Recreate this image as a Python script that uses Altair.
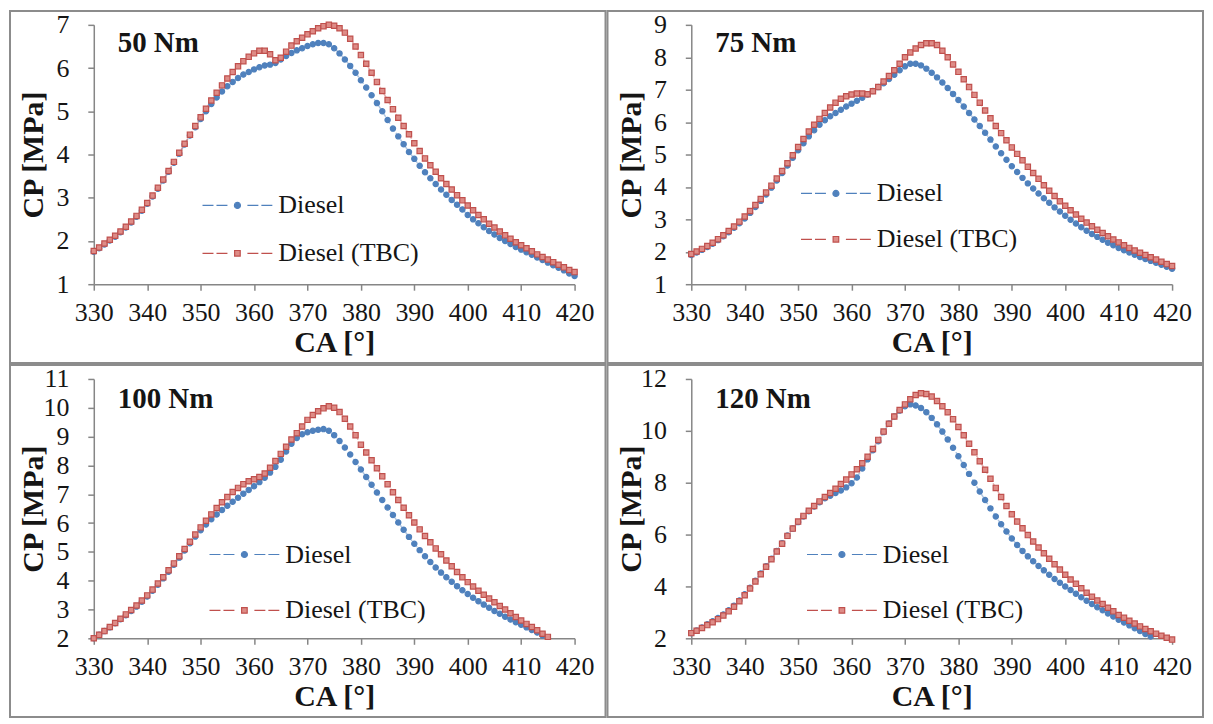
import altair as alt
import pandas as pd

# ---------------- data ----------------
CA = list(range(330, 421))
SERIES = ["Diesel", "Diesel (TBC)"]
X_TICKS = [330, 340, 350, 360, 370, 380, 390, 400, 410, 420]

P50_DIESEL = [
    1.75, 1.83, 1.92, 2.01, 2.10, 2.20, 2.31, 2.43, 2.56, 2.70,
    2.86, 3.03, 3.21, 3.40, 3.60, 3.81, 4.02, 4.23, 4.44, 4.63,
    4.82, 5.00, 5.17, 5.32, 5.46, 5.58, 5.68, 5.77, 5.85, 5.91,
    5.97, 6.02, 6.06, 6.08, 6.12, 6.20, 6.28, 6.35, 6.41, 6.46,
    6.51, 6.55, 6.58, 6.58, 6.55, 6.46, 6.34, 6.20, 6.05, 5.89,
    5.72, 5.55, 5.37, 5.19, 5.00, 4.80, 4.60, 4.42, 4.24, 4.06,
    3.90, 3.74, 3.59, 3.45, 3.32, 3.19, 3.07, 2.95, 2.84, 2.73,
    2.60, 2.50, 2.41, 2.32, 2.23, 2.15, 2.07, 2.00, 1.93, 1.86,
    1.80, 1.74, 1.68, 1.62, 1.56, 1.50, 1.44, 1.38, 1.32, 1.25,
    1.19,
]
P50_TBC = [
    1.77, 1.85, 1.94, 2.03, 2.12, 2.22, 2.33, 2.45, 2.58, 2.72,
    2.88, 3.05, 3.23, 3.42, 3.62, 3.83, 4.04, 4.25, 4.46, 4.66,
    4.86, 5.06, 5.25, 5.43, 5.60, 5.76, 5.91, 6.04, 6.16, 6.26,
    6.34, 6.40, 6.40, 6.32, 6.18, 6.24, 6.38, 6.52, 6.62, 6.70,
    6.78, 6.85, 6.92, 6.97, 7.00, 6.98, 6.92, 6.82, 6.68, 6.50,
    6.30, 6.10, 5.89, 5.68, 5.47, 5.26, 5.05, 4.85, 4.66, 4.47,
    4.26, 4.08, 3.91, 3.75, 3.60, 3.45, 3.32, 3.19, 3.06, 2.94,
    2.82, 2.71, 2.60, 2.50, 2.40, 2.31, 2.22, 2.13, 2.05, 1.97,
    1.90, 1.83, 1.76, 1.69, 1.63, 1.57, 1.51, 1.45, 1.39, 1.33,
    1.28,
]
P75_DIESEL = [
    1.90, 1.98, 2.06, 2.15, 2.25, 2.36, 2.48, 2.60, 2.74, 2.88,
    3.03, 3.20, 3.38, 3.57, 3.77, 3.98, 4.20, 4.43, 4.66, 4.90,
    5.13, 5.35, 5.56, 5.75, 5.92, 6.06, 6.18, 6.28, 6.38, 6.48,
    6.57, 6.66, 6.75, 6.85, 6.96, 7.08, 7.20, 7.33, 7.46, 7.60,
    7.72, 7.80, 7.80, 7.75, 7.65, 7.52, 7.38, 7.22, 7.05, 6.87,
    6.68, 6.48, 6.28, 6.08, 5.88, 5.67, 5.46, 5.25, 5.04, 4.84,
    4.64, 4.46, 4.28, 4.11, 3.95, 3.80, 3.65, 3.51, 3.37, 3.24,
    3.11, 2.99, 2.87, 2.76, 2.65, 2.55, 2.46, 2.37, 2.28, 2.20,
    2.12, 2.05, 1.98, 1.91, 1.84, 1.78, 1.72, 1.66, 1.60, 1.54,
    1.48,
]
P75_TBC = [
    1.93, 2.01, 2.09, 2.18, 2.28, 2.39, 2.51, 2.64, 2.78, 2.93,
    3.09, 3.26, 3.44, 3.63, 3.83, 4.04, 4.26, 4.49, 4.73, 4.98,
    5.23, 5.48, 5.71, 5.92, 6.10, 6.28, 6.45, 6.60, 6.72, 6.80,
    6.85, 6.88, 6.88, 6.86, 6.95, 7.08, 7.25, 7.42, 7.60, 7.80,
    8.00, 8.15, 8.27, 8.38, 8.43, 8.43, 8.38, 8.20, 8.00, 7.78,
    7.55, 7.32, 7.08, 6.84, 6.60, 6.36, 6.12, 5.88, 5.66, 5.44,
    5.22, 5.02, 4.82, 4.62, 4.43, 4.25, 4.05, 3.88, 3.72, 3.56,
    3.42, 3.28, 3.15, 3.02, 2.90, 2.79, 2.68, 2.58, 2.48, 2.38,
    2.29, 2.20, 2.12, 2.04, 1.97, 1.90, 1.83, 1.76, 1.69, 1.62,
    1.56,
]
P100_DIESEL = [
    2.00, 2.12, 2.25, 2.38, 2.52, 2.66, 2.80, 2.95, 3.10, 3.27,
    3.45, 3.65, 3.86, 4.08, 4.31, 4.55, 4.80, 5.05, 5.30, 5.53,
    5.75, 5.95, 6.13, 6.30, 6.45, 6.60, 6.74, 6.88, 7.02, 7.15,
    7.28, 7.42, 7.57, 7.75, 7.95, 8.20, 8.48, 8.75, 8.95, 9.08,
    9.15, 9.20, 9.24, 9.26, 9.20, 9.05, 8.85, 8.62, 8.38, 8.12,
    7.86, 7.60, 7.33, 7.06, 6.80, 6.54, 6.28, 6.02, 5.77, 5.52,
    5.28, 5.06, 4.85, 4.65, 4.46, 4.28, 4.12, 3.96, 3.81, 3.67,
    3.54, 3.41, 3.29, 3.17, 3.06, 2.95, 2.85, 2.75, 2.65, 2.56,
    2.47, 2.38, 2.29, 2.20, 2.10,
]
P100_TBC = [
    2.00, 2.12, 2.25, 2.39, 2.53, 2.68, 2.83, 2.98, 3.14, 3.31,
    3.49, 3.69, 3.90, 4.12, 4.36, 4.60, 4.85, 5.10, 5.35, 5.60,
    5.85, 6.08, 6.30, 6.52, 6.72, 6.90, 7.08, 7.22, 7.35, 7.45,
    7.52, 7.60, 7.72, 7.92, 8.15, 8.40, 8.65, 8.90, 9.12, 9.35,
    9.58, 9.75, 9.88, 9.98, 10.05, 10.00, 9.85, 9.62, 9.35, 9.05,
    8.72, 8.45, 8.18, 7.90, 7.62, 7.35, 7.07, 6.80, 6.53, 6.27,
    6.02, 5.78, 5.55, 5.33, 5.12, 4.92, 4.70, 4.50, 4.30, 4.12,
    3.95, 3.80, 3.65, 3.51, 3.38, 3.25, 3.12, 3.00, 2.87, 2.74,
    2.62, 2.50, 2.39, 2.28, 2.16, 2.05,
]
P120_DIESEL = [
    2.20, 2.30, 2.42, 2.54, 2.66, 2.78, 2.92, 3.08, 3.26, 3.46,
    3.70, 3.95, 4.22, 4.50, 4.78, 5.07, 5.37, 5.67, 5.96, 6.23,
    6.48, 6.70, 6.90, 7.08, 7.25, 7.40, 7.50, 7.60, 7.70, 7.82,
    7.98, 8.20, 8.55, 8.90, 9.25, 9.60, 9.95, 10.28, 10.55, 10.78,
    10.95, 11.02, 10.98, 10.88, 10.72, 10.50, 10.25, 9.97, 9.67, 9.35,
    9.02, 8.68, 8.34, 8.00, 7.66, 7.33, 7.01, 6.70, 6.40, 6.12,
    5.85, 5.60, 5.37, 5.16, 4.97, 4.79, 4.62, 4.45, 4.29, 4.14,
    4.00, 3.86, 3.72, 3.58, 3.45, 3.32, 3.20, 3.08, 2.96, 2.84,
    2.72, 2.61, 2.50, 2.39, 2.28, 2.17, 2.07,
]
P120_TBC = [
    2.20, 2.29, 2.40, 2.51, 2.62, 2.74, 2.88, 3.04, 3.22, 3.43,
    3.66, 3.92, 4.19, 4.47, 4.76, 5.05, 5.35, 5.65, 5.95, 6.23,
    6.50, 6.72, 6.92, 7.10, 7.28, 7.45, 7.60, 7.77, 7.95, 8.12,
    8.32, 8.52, 8.75, 9.00, 9.30, 9.65, 9.97, 10.27, 10.55, 10.80,
    11.02, 11.22, 11.38, 11.45, 11.42, 11.32, 11.15, 10.95, 10.72, 10.45,
    10.15, 9.83, 9.50, 9.17, 8.83, 8.50, 8.15, 7.80, 7.45, 7.10,
    6.78, 6.50, 6.24, 5.98, 5.73, 5.50, 5.28, 5.07, 4.86, 4.65,
    4.45, 4.27, 4.10, 3.93, 3.76, 3.60, 3.46, 3.32, 3.18, 3.04,
    2.90, 2.79, 2.68, 2.57, 2.46, 2.36, 2.27, 2.18, 2.10, 2.02,
    1.95,
]

PANEL_LABELS = ["50 Nm", "75 Nm", "100 Nm", "120 Nm"]
Y_DOMAINS = [[1, 7], [1, 9], [2, 11], [2, 12]]
Y_TICKS = [
    [1, 2, 3, 4, 5, 6, 7],
    [1, 2, 3, 4, 5, 6, 7, 8, 9],
    [2, 3, 4, 5, 6, 7, 8, 9, 10, 11],
    [2, 4, 6, 8, 10, 12],
]

# ---------------- style ----------------
FONT = "Liberation Serif, Times New Roman, Tinos, Nimbus Roman, DejaVu Serif, serif"
BLUE = "#4F81BD"
RED = "#C0504D"
PINK = "#DE8C87"
GRAY = "#8C8C8C"
AXIS_GRAY = "#868686"
TEXT = "#151515"
PW, PH = 482, 260

# legend symbols: dashed line with the marker in the middle (unit = 7 px)
LEG_CIRCLE = ("M-5,0H-3.43M-3,0H-1.43M1.43,0H3M3.43,0H5"
              "M0.43,0A0.43,0.43,0,1,1,-0.43,0A0.43,0.43,0,1,1,0.43,0Z")
LEG_SQUARE = ("M-5,0H-3.43M-3,0H-1.43M1.43,0H3M3.43,0H5"
              "M-0.4,-0.4H0.4V0.4H-0.4Z")


def panel(diesel, tbc, label, y_dom, y_ticks, leg_cx, leg_row1, row_pad, label_y):
    rows = [{"CA": c, "CP": v, "Series": SERIES[0]} for c, v in zip(CA, diesel)]
    rows += [{"CA": c, "CP": v, "Series": SERIES[1]} for c, v in zip(CA, tbc)]
    df = pd.DataFrame(rows)

    x = alt.X("CA:Q", scale=alt.Scale(domain=[330, 420], nice=False, zero=False),
              axis=alt.Axis(values=X_TICKS, title="CA [°]", labelPadding=9, labelOverlap=False,
                            labelFlush=False, titleY=58, titleBaseline="middle"))
    y = alt.Y("CP:Q", scale=alt.Scale(domain=y_dom, nice=False, zero=False),
              axis=alt.Axis(values=y_ticks, title="CP [MPa]", labelPadding=19, labelOverlap=False,
                            labelFlush=False, titleX=-60, titleY=PH / 2, titleAngle=270,
                            titleBaseline="middle", titleAlign="center"))

    lines = alt.Chart(df).mark_line(strokeDash=[5, 3], strokeWidth=1.5, strokeOpacity=0.45).encode(
        x=x, y=y,
        stroke=alt.Stroke("Series:N", scale=alt.Scale(domain=SERIES, range=[BLUE, RED]), legend=None),
    )
    points = alt.Chart(df).mark_point(filled=True, size=28, strokeWidth=1.2, opacity=1).encode(
        x=x, y=y,
        fill=alt.Fill("Series:N", scale=alt.Scale(domain=SERIES, range=[BLUE, PINK]), legend=None),
        stroke=alt.Stroke("Series:N", scale=alt.Scale(domain=SERIES, range=[BLUE, RED]), legend=None),
        shape=alt.Shape("Series:N", scale=alt.Scale(domain=SERIES, range=["circle", "square"]), legend=None),
    )

    def leg():
        return alt.Legend(
            orient="none", legendX=leg_cx - 12, legendY=leg_row1 - 13, title=None,
            labelFont=FONT, labelFontSize=26, labelColor=TEXT, labelOffset=28,
            rowPadding=row_pad, padding=0, symbolSize=196, symbolStrokeWidth=1.2,
            symbolOpacity=1, labelOverlap=False,
        )

    legend_layer = alt.Chart(df).transform_filter("false").mark_point(filled=True, opacity=1).encode(
        x=x, y=y,
        shape=alt.Shape("Series:N", scale=alt.Scale(domain=SERIES, range=[LEG_CIRCLE, LEG_SQUARE]), legend=leg()),
        fill=alt.Fill("Series:N", scale=alt.Scale(domain=SERIES, range=[BLUE, PINK]), legend=leg()),
        stroke=alt.Stroke("Series:N", scale=alt.Scale(domain=SERIES, range=[BLUE, RED]), legend=leg()),
    )

    title = alt.Chart(alt.Data(values=[{"t": label}])).mark_text(
        align="left", baseline="alphabetic", font=FONT, fontSize=29, fontWeight="bold", color=TEXT
    ).encode(x=alt.value(24), y=alt.value(label_y), text="t:N")
    frame = alt.Chart(alt.Data(values=[{"f": 1}])).mark_rect(
        fill="transparent", stroke=GRAY, strokeWidth=2
    ).encode(x=alt.value(-84), x2=alt.value(513), y=alt.value(-14), y2=alt.value(339))

    return alt.layer(frame, lines, points, legend_layer, title).resolve_scale(
        fill="independent", stroke="independent", shape="independent"
    ).properties(width=PW, height=PH)


p1 = panel(P50_DIESEL, P50_TBC, PANEL_LABELS[0], Y_DOMAINS[0], Y_TICKS[0], 143, 181, 22, 27)
p2 = panel(P75_DIESEL, P75_TBC, PANEL_LABELS[1], Y_DOMAINS[1], Y_TICKS[1], 144, 169, 20, 27)
p3 = panel(P100_DIESEL, P100_TBC, PANEL_LABELS[2], Y_DOMAINS[2], Y_TICKS[2], 150, 176, 30, 29)
p4 = panel(P120_DIESEL, P120_TBC, PANEL_LABELS[3], Y_DOMAINS[3], Y_TICKS[3], 150, 176, 30, 29)

chart = alt.concat(p1, p2, p3, p4, columns=2, spacing=-2).resolve_scale(
    stroke="independent", fill="independent", shape="independent"
).properties(
    padding=0, background="white"
).configure_view(stroke="transparent").configure_axis(
    grid=False, domainColor=AXIS_GRAY, domainWidth=1.5, tickColor=AXIS_GRAY, tickWidth=1.5,
    tickSize=6, labelFont=FONT, labelFontSize=26, labelColor=TEXT,
    titleFont=FONT, titleFontSize=30, titleFontWeight="bold", titleColor=TEXT,
)

chart.save("out.html", embed_options={"renderer": "svg", "actions": False})
